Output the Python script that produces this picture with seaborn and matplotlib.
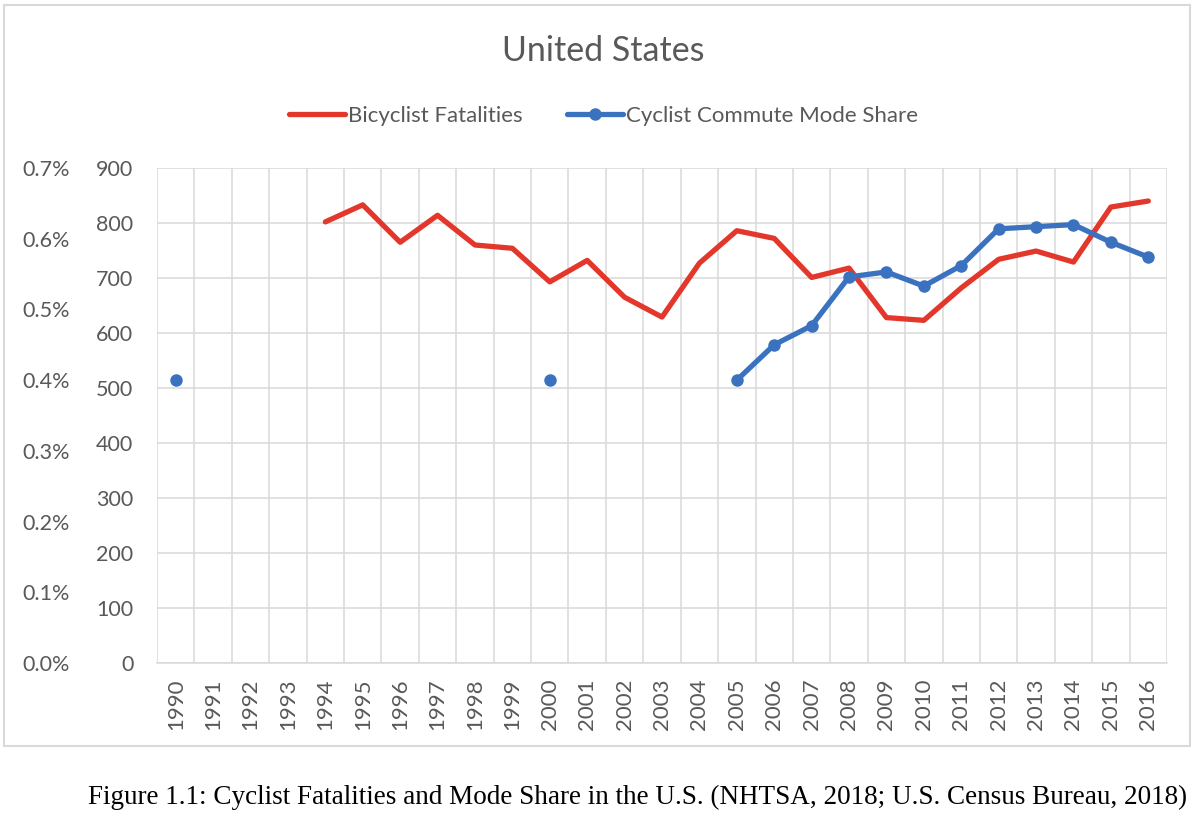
import numpy as np
import pandas as pd
import seaborn as sns
from matplotlib import pyplot as plt
from matplotlib.lines import Line2D
from matplotlib.patches import Rectangle

# 数据
years = list(range(1990, 2017))
fatalities = [np.nan, np.nan, np.nan, np.nan, 802, 833, 765, 814, 760, 754,
              693, 732, 665, 629, 727, 786, 772, 701, 718, 628,
              623, 682, 734, 749, 729, 829, 840]
mode_share = [0.40, np.nan, np.nan, np.nan, np.nan, np.nan, np.nan, np.nan, np.nan, np.nan,
              0.40, np.nan, np.nan, np.nan, np.nan, 0.40, 0.45, 0.477, 0.546, 0.553,
              0.533, 0.562, 0.614, 0.617, 0.620, 0.595, 0.574]
title = 'United States'
caption = 'Figure 1.1: Cyclist Fatalities and Mode Share in the U.S. (NHTSA, 2018; U.S. Census Bureau, 2018)'

red = '#E4372B'
blue = '#3A72C0'
grey_txt = '#595959'
grid_c = '#D9D9D9'

sns.set_theme(style='white')
plt.rcParams['font.family'] = ['Lato', 'DejaVu Sans']

df = pd.DataFrame({'pos': np.arange(len(years)), 'fat': fatalities, 'share': mode_share})
# 按缺失值切分蓝线，断开的年份不连线
df['seg'] = df['share'].isna().cumsum()

fig = plt.figure(figsize=(12, 8.22), dpi=100)
ax = fig.add_axes([157 / 1200, 159 / 822, 1010 / 1200, 495 / 822])
ax2 = ax.twinx()

# 红线：死亡人数
sns.lineplot(data=df.dropna(subset=['fat']), x='pos', y='fat', ax=ax,
             color=red, linewidth=3.8, legend=False)
# 蓝线：通勤比例
sns.lineplot(data=df.dropna(subset=['share']), x='pos', y='share', units='seg',
             estimator=None, ax=ax2, color=blue, linewidth=3.8, marker='o',
             markersize=9, markeredgewidth=0, legend=False)

n = len(years)
ax.set_xlim(-0.5, n - 0.5)
ax.set_ylim(0, 900)
ax2.set_ylim(0, 0.7)
ax.set_yticks(range(0, 901, 100))
ax2.set_yticks(np.arange(0, 0.71, 0.1))
ax2.set_yticklabels(['%.1f%%' % v for v in np.arange(0, 0.71, 0.1)])
ax.set_xticks(range(n))
ax.set_xticklabels([str(y) for y in years], rotation=90)
ax.set_xticks(np.arange(-0.5, n, 1), minor=True)

# 网格
ax.grid(False)
ax2.grid(False)
ax.yaxis.grid(True, color=grid_c, linewidth=1.1)
ax.xaxis.grid(True, which='minor', color=grid_c, linewidth=1.1)
ax.set_axisbelow(True)
for a in (ax, ax2):
    for s in a.spines.values():
        s.set_visible(False)
ax.spines['bottom'].set_visible(True)
ax.spines['bottom'].set_color(grid_c)
ax.spines['bottom'].set_linewidth(1.1)
ax.set_xlabel('')
ax.set_ylabel('')
ax2.set_ylabel('')

ax.tick_params(axis='x', which='both', length=0, pad=11, labelsize=16, labelcolor=grey_txt)
ax.tick_params(axis='y', length=0, pad=17, labelsize=15.5, labelcolor=grey_txt)
ax2.yaxis.tick_left()
ax2.tick_params(axis='y', length=0, pad=63, labelsize=15.5, labelcolor=grey_txt,
                left=False, labelleft=True, right=False, labelright=False)

# 标题和图例
fig.text(0.503, 1 - 51 / 822, title, ha='center', va='center', fontsize=24.5, color=grey_txt)
handles = [Line2D([], [], color=red, linewidth=3.8),
           Line2D([], [], color=blue, linewidth=3.8, marker='o', markersize=9, markeredgewidth=0)]
fig.legend(handles, ['Bicyclist Fatalities', 'Cyclist Commute Mode Share'],
           loc='center', bbox_to_anchor=(0.503, 1 - 116 / 822), ncol=2, frameon=False,
           fontsize=16, handlelength=2.5, handletextpad=0.15, columnspacing=2.0,
           labelcolor=grey_txt)

# 图表边框
fig.patches.append(Rectangle((4 / 1200, 1 - 746 / 822), 1186 / 1200, 741 / 822,
                             transform=fig.transFigure, fill=False,
                             edgecolor=grid_c, linewidth=1.5))

# 图注
fig.text(88 / 1200, 1 - 797 / 822, caption, ha='left', va='center', fontsize=19.5,
         family=['Liberation Serif', 'DejaVu Serif'], color='black')

fig.savefig('out.png', dpi=100, facecolor='white')
